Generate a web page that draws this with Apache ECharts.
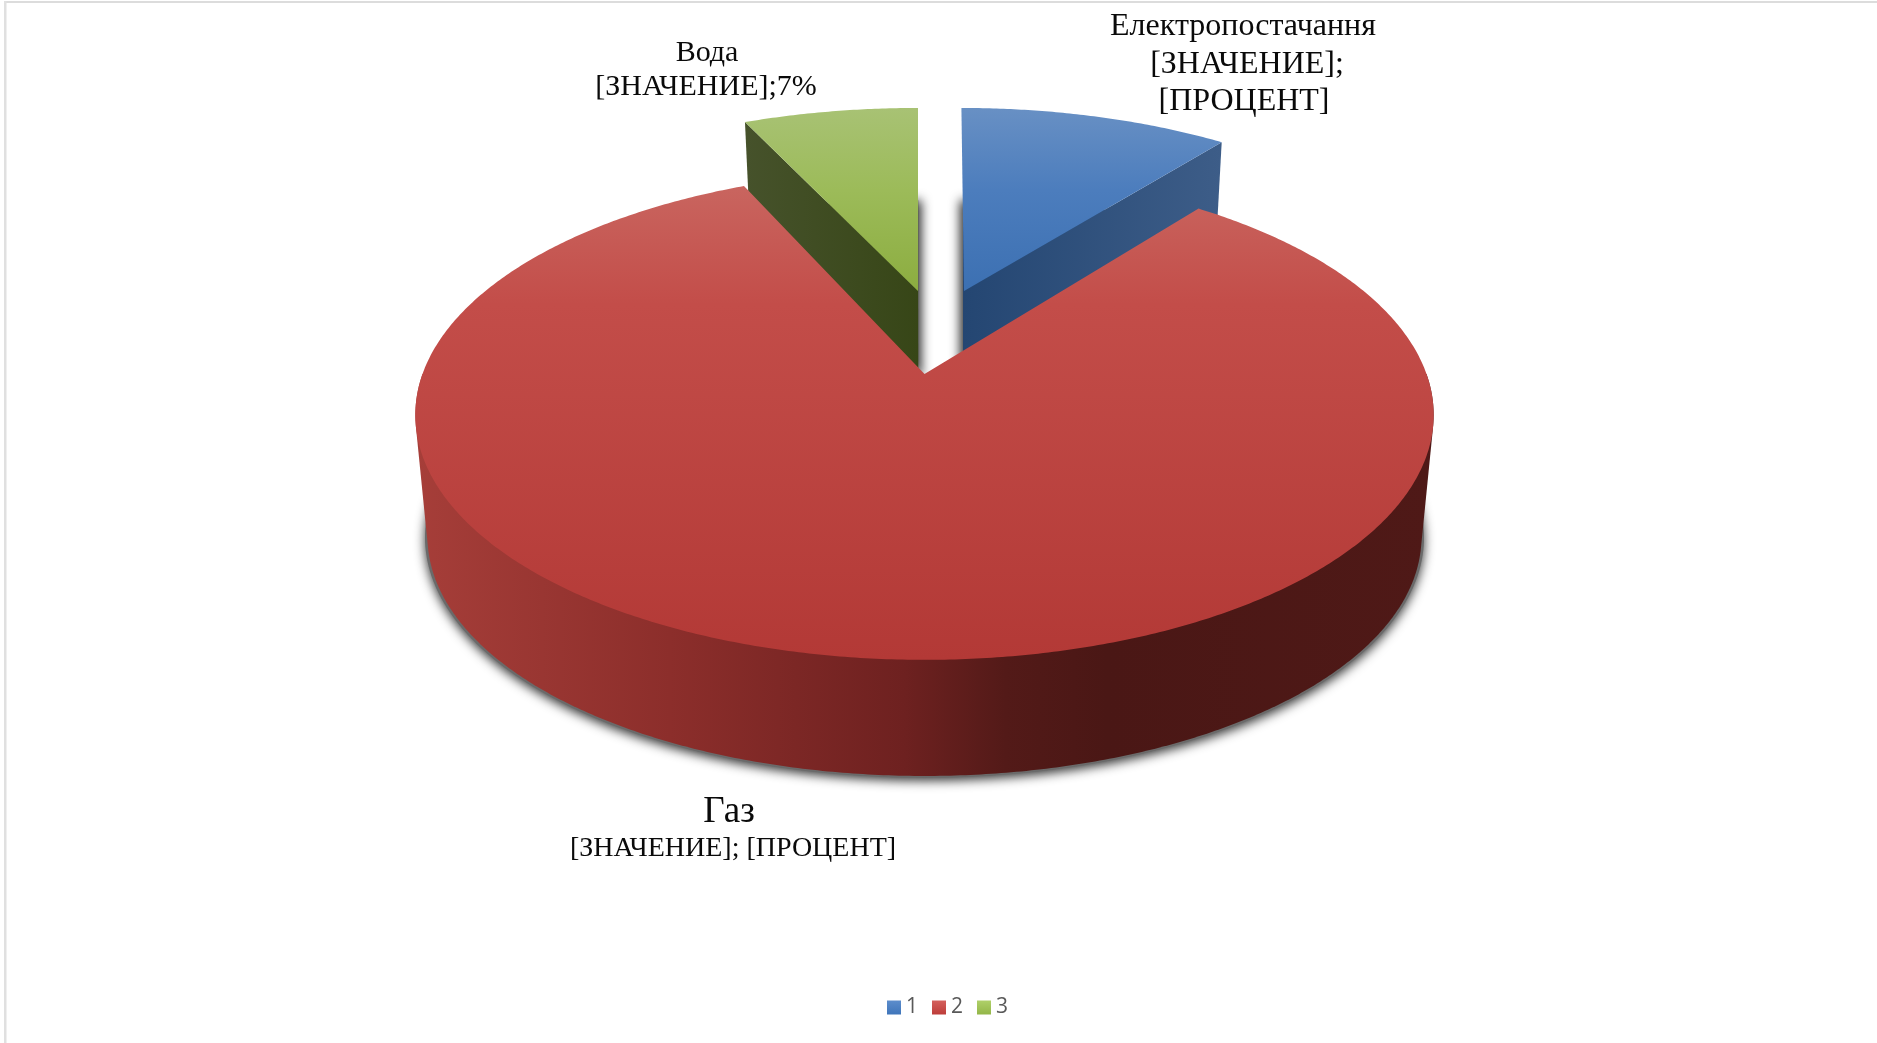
<!DOCTYPE html>
<html>
<head>
<meta charset="utf-8">
<style>html,body{margin:0;padding:0;background:#fff}#chart{width:1877px;height:1043px}</style>
<script src="https://cdn.jsdelivr.net/npm/echarts@6/dist/echarts.min.js"></script>
</head>
<body>
<div id="chart"></div>
<script>
// Shares of utility spending, in percent
const sliceNames = ['Електропостачання', 'Газ', 'Вода'];
const sliceValues = [10.6, 82.6, 6.8];
const legendNames = ['1', '2', '3'];

const electricityLabel = ['Електропостачання', '[ЗНАЧЕНИЕ];', '[ПРОЦЕНТ]'];
const gasLabel = ['Газ', '[ЗНАЧЕНИЕ]; [ПРОЦЕНТ]'];
const waterLabel = ['Вода', '[ЗНАЧЕНИЕ];' + Math.round(sliceValues[2]) + '%'];

const total = sliceValues.reduce((a, b) => a + b, 0);
const serif = '"Liberation Serif", "Times New Roman", serif';
const vanishX = 925;     // walls converge towards this column
const baseScale = 0.976; // the underside sits slightly further from the eye

const looks = [
  {
    apex: [964, 291], A: 480, B: 216, k: 0.18, depth: 88, z: 2, lean: 17,
    shadow: { blur: 11, x: -3, y: 0, alpha: 0.85 },
    top: [[0, '#6890c4'], [0.45, '#4c7dbd'], [1, '#3c70b2']],
    wall: [[0, '#244672'], [1, '#3d5d88']], wallEnd: 'end',
    legend: [[0, '#5c8dcc'], [1, '#3f75ba']],
    labels: [
      { t: electricityLabel[0], x: 1243, y: 27, size: 32 },
      { t: electricityLabel[1], x: 1247, y: 65, size: 32 },
      { t: electricityLabel[2], x: 1244, y: 102, size: 32 }
    ]
  },
  {
    apex: [924.5, 374], A: 502, B: 238, k: 0.1673, depth: 123, z: 4, lean: 0,
    shadow: { blur: 11, x: 0, y: 3, alpha: 0.8 },
    top: [[0, '#c9655f'], [0.25, '#c34d49'], [1, '#b33936']],
    wall: [[0, '#a63e39'], [0.25, '#8c2e2b'], [0.48, '#6e2120'], [0.58, '#531a18'], [0.68, '#4a1715'], [1, '#4f1917']],
    wallEnd: 'arc',
    legend: [[0, '#d4605c'], [1, '#bd3d3a']],
    labels: [
      { t: gasLabel[0], x: 729, y: 812, size: 37 },
      { t: gasLabel[1], x: 733, y: 849, size: 28 }
    ]
  },
  {
    apex: [918, 291], A: 486, B: 216, k: 0.18, depth: 88, z: 3, lean: 0,
    shadow: { blur: 11, x: 3, y: 0, alpha: 0.85 },
    top: [[0, '#a8c274'], [0.45, '#9cbb59'], [1, '#8cad40']],
    wall: [[0, '#46522b'], [1, '#374617']], wallEnd: 'start',
    legend: [[0, '#afd069'], [1, '#93b648']],
    labels: [
      { t: waterLabel[0], x: 707, y: 53, size: 30 },
      { t: waterLabel[1], x: 706, y: 87, size: 30 }
    ]
  }
];

// Perspective projection of a point on the unit disc (angle clockwise from the far side)
function project(look, angle, radius, isBase) {
  const s = isBase ? baseScale : 1;
  const u = radius * Math.sin(angle);
  const v = radius * Math.cos(angle);
  const w = 1 + look.k * v;
  const ax = vanishX + (look.apex[0] - vanishX) * s;
  const ay = look.apex[1] + (isBase ? look.depth : 0);
  const lean = isBase ? 0 : look.lean * (1 / w - 1);
  return [ax + look.A * s * u / w + lean, ay - look.B * s * v / w];
}

function arcPoints(look, from, to, isBase, radius) {
  const pts = [];
  const steps = Math.max(2, Math.ceil(Math.abs(to - from) / (Math.PI / 360)));
  for (let i = 0; i <= steps; i++) {
    pts.push(project(look, from + (to - from) * i / steps, radius === undefined ? 1 : radius, isBase));
  }
  return pts;
}

// Outline of the rim as seen from above: tangent lines join the upper and lower arcs
function convexHull(points) {
  const pts = points.slice().sort((a, b) => a[0] - b[0] || a[1] - b[1]);
  const cross = (o, a, b) => (a[0] - o[0]) * (b[1] - o[1]) - (a[1] - o[1]) * (b[0] - o[0]);
  const lower = [], upper = [];
  pts.forEach(p => {
    while (lower.length > 1 && cross(lower[lower.length - 2], lower[lower.length - 1], p) <= 0) lower.pop();
    lower.push(p);
  });
  pts.slice().reverse().forEach(p => {
    while (upper.length > 1 && cross(upper[upper.length - 2], upper[upper.length - 1], p) <= 0) upper.pop();
    upper.push(p);
  });
  return lower.slice(0, -1).concat(upper.slice(0, -1));
}

const gradient = (stops, horizontal) => ({
  type: 'linear', x: 0, y: 0, x2: horizontal ? 1 : 0, y2: horizontal ? 0 : 1,
  colorStops: stops.map(([offset, color]) => ({ offset, color }))
});

function sliceStart(index) {
  let before = 0;
  for (let i = 0; i < index; i++) before += sliceValues[i];
  return before / total * 2 * Math.PI;
}

function renderSlice(index) {
  return function (params, api) {
    const look = looks[index];
    const start = sliceStart(index);
    const end = start + api.value(0) / total * 2 * Math.PI;
    const children = [];
    const shadowStyle = {
      shadowColor: 'rgba(0,0,0,' + look.shadow.alpha + ')',
      shadowBlur: look.shadow.blur,
      shadowOffsetX: look.shadow.x,
      shadowOffsetY: look.shadow.y
    };

    if (look.wallEnd === 'arc') {
      const q = Math.PI / 2;
      // Ground shadow: the underside, barely enlarged, peeking out around the rim
      children.push({
        type: 'polygon',
        shape: { points: arcPoints(look, q, 3 * q, true, 1.005) },
        style: Object.assign({ fill: '#6a6a6a' }, shadowStyle)
      });
      // Near half of the rim
      const rim = convexHull(arcPoints(look, q, 3 * q, false).concat(arcPoints(look, q, 3 * q, true)));
      children.push({
        type: 'polygon',
        shape: { points: rim },
        style: { fill: gradient(look.wall, true) }
      });
    } else {
      // Underside with its shadow, then the cut face turned towards the viewer
      children.push({
        type: 'polygon',
        shape: { points: [project(look, 0, 0, true)].concat(arcPoints(look, start, end, true)) },
        style: Object.assign({ fill: look.wall[0][1] }, shadowStyle)
      });
      const edge = look.wallEnd === 'end' ? end : start;
      children.push({
        type: 'polygon',
        shape: {
          points: [
            project(look, 0, 0, false),
            project(look, edge, 1, false),
            project(look, edge, 1, true),
            project(look, 0, 0, true)
          ]
        },
        style: { fill: gradient(look.wall, true) }
      });
    }

    // Top face
    children.push({
      type: 'polygon',
      shape: { points: [project(look, 0, 0, false)].concat(arcPoints(look, start, end, false)) },
      style: { fill: gradient(look.top, false) }
    });

    look.labels.forEach(l => {
      children.push({
        type: 'text',
        style: {
          text: l.t, x: l.x, y: l.y, fill: '#0a0a0a',
          font: l.size + 'px ' + serif, align: 'center', verticalAlign: 'middle'
        }
      });
    });
    return { type: 'group', children };
  };
}

const chart = echarts.init(document.getElementById('chart'));
chart.setOption({
  animation: false,
  backgroundColor: '#ffffff',
  legend: {
    data: legendNames.map((name, i) => ({
      name, icon: 'rect', itemStyle: { color: gradient(looks[i].legend, false) }
    })),
    left: 882, top: 992,
    itemWidth: 14, itemHeight: 14, itemGap: 14,
    textStyle: { color: '#595959', fontSize: 21, fontFamily: '"Open Sans", sans-serif', padding: [0, 0, 0, 0] },
    selectedMode: false
  },
  graphic: [
    { type: 'rect', shape: { x: 5, y: 1, width: 1872, height: 2 }, style: { fill: '#dcdcdc' }, silent: true },
    { type: 'rect', shape: { x: 4, y: 1, width: 2.5, height: 1042 }, style: { fill: '#e0e0e0' }, silent: true }
  ],
  series: sliceValues.map((value, i) => ({
    type: 'custom',
    name: legendNames[i],
    coordinateSystem: 'none',
    z: looks[i].z,
    silent: true,
    itemStyle: { color: looks[i].legend[1][1] },
    renderItem: renderSlice(i),
    data: [{ name: sliceNames[i], value: [value] }]
  }))
});
</script>
</body>
</html>
